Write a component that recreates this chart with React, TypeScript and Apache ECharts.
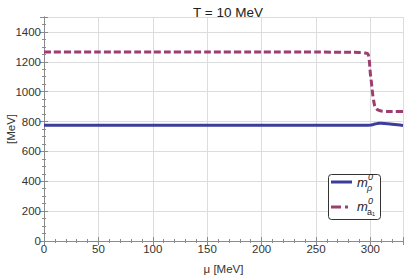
import React, { useEffect, useRef } from "react";
import * as echarts from "echarts";

const title = "T = 10 MeV";
const xName = "μ [MeV]";
const yName = "[MeV]";
const muRho = [0, 50, 100, 150, 200, 250, 290, 298, 300, 302, 304, 306, 308, 310, 313, 316, 320, 325, 330];
const mRho = [775, 775, 775, 775, 775, 775, 775, 775, 776, 779, 783, 786, 788, 788, 787, 785, 782, 778, 774];
const muA1 = [0, 50, 100, 150, 200, 250, 280, 290, 295, 297, 298, 299, 300, 301, 302, 303, 304, 305, 306, 308, 310, 315, 320, 330];
const mA1 = [1265, 1265, 1265, 1265, 1265, 1265, 1264, 1262, 1259, 1256, 1250, 1210, 1120, 1060, 990, 940, 905, 890, 882, 874, 870, 868, 867, 867];
const xTicks = [0, 50, 100, 150, 200, 250, 300];
const yTicks = [0, 200, 400, 600, 800, 1000, 1200, 1400];

const C_RHO = "#3c3c9c";
const C_A1 = "#9e3d70";
const AX = "#8a8a8a";
const FONT = "'Liberation Sans', Arial, sans-serif";

export default function App() {
  const ref = useRef<HTMLDivElement>(null);
  useEffect(() => {
    const chart = echarts.init(ref.current!, null, { renderer: "svg" });
    const frameAxis = (show: boolean) => ({
      axisLine: { show: true, lineStyle: { color: AX, width: 1 } },
      axisTick: { show: true, inside: true, length: 4, lineStyle: { color: AX } },
      minorTick: { show: true, splitNumber: 5, length: 2, lineStyle: { color: AX } },
      axisLabel: { show },
    });
    chart.setOption({
      animation: false,
      backgroundColor: "#ffffff",
      title: {
        text: title,
        left: 223,
        textAlign: "center",
        top: 0,
        textStyle: { fontFamily: FONT, fontSize: 13.5, fontWeight: "normal", color: "#222" },
      },
      grid: { left: 44, right: 4, top: 17, bottom: 35, outerBoundsMode: "none", containLabel: false },
      xAxis: [
        {
          type: "value",
          min: 0,
          max: 330,
          interval: 50,
          name: xName,
          nameLocation: "middle",
          nameGap: 22,
          nameMoveOverlap: false,
          nameTextStyle: { fontFamily: FONT, fontSize: 11.5, color: "#333" },
          ...frameAxis(true),
          axisLabel: {
            show: true,
            fontFamily: FONT,
            fontSize: 11.5,
            color: "#333",
            margin: 2,
            formatter: (v: number) => (xTicks.includes(v) ? String(v) : ""),
          },
          splitLine: { show: true, lineStyle: { color: "#dcdcdc", width: 1 } },
        },
        {
          type: "value",
          position: "top",
          min: 0,
          max: 330,
          interval: 50,
          ...frameAxis(false),
          splitLine: { show: false },
        },
      ],
      yAxis: [
        {
          type: "value",
          min: 0,
          max: 1500,
          interval: 200,
          name: yName,
          nameLocation: "middle",
          nameGap: 27,
          nameMoveOverlap: false,
          nameTextStyle: { fontFamily: FONT, fontSize: 11.5, color: "#333" },
          ...frameAxis(true),
          minorTick: { show: true, splitNumber: 4, length: 2, lineStyle: { color: AX } },
          axisLabel: {
            show: true,
            fontFamily: FONT,
            fontSize: 11.5,
            color: "#333",
            margin: 3,
            formatter: (v: number) => (yTicks.includes(v) ? String(v) : ""),
          },
          splitLine: { show: true, lineStyle: { color: "#dcdcdc", width: 1 } },
        },
        {
          type: "value",
          position: "right",
          min: 0,
          max: 1500,
          interval: 200,
          ...frameAxis(false),
          minorTick: { show: true, splitNumber: 4, length: 2, lineStyle: { color: AX } },
          splitLine: { show: false },
        },
      ],
      series: [
        {
          type: "line",
          name: "rho",
          data: muRho.map((x, i) => [x, mRho[i]]),
          showSymbol: false,
          smooth: 0.3,
          lineStyle: { color: C_RHO, width: 3 },
        },
        {
          type: "line",
          name: "a1",
          data: muA1.map((x, i) => [x, mA1[i]]),
          showSymbol: false,
          smooth: 0.2,
          lineStyle: { color: C_A1, width: 3, type: [7, 3] },
        },
      ],
      graphic: [
        {
          type: "rect",
          shape: { x: 328.5, y: 174.5, width: 52, height: 45, r: 3 },
          style: { fill: "#ffffff", stroke: "#333", lineWidth: 1 },
          z: 100,
        },
        {
          type: "line",
          shape: { x1: 331, y1: 182, x2: 352, y2: 182 },
          style: { stroke: C_RHO, lineWidth: 3 },
          z: 101,
        },
        {
          type: "line",
          shape: { x1: 331, y1: 207, x2: 352, y2: 207 },
          style: { stroke: C_A1, lineWidth: 3, lineDash: [10, 4, 3, 4] },
          z: 101,
        },
        { type: "text", x: 357, y: 176, z: 101, style: { text: "m", fontFamily: FONT, fontStyle: "italic", fontSize: 13, fill: "#222" } },
        { type: "text", x: 368, y: 172, z: 101, style: { text: "0", fontFamily: FONT, fontStyle: "italic", fontSize: 9, fill: "#222" } },
        { type: "text", x: 367, y: 183, z: 101, style: { text: "ρ", fontFamily: FONT, fontStyle: "italic", fontSize: 9, fill: "#222" } },
        { type: "text", x: 357, y: 200, z: 101, style: { text: "m", fontFamily: FONT, fontStyle: "italic", fontSize: 13, fill: "#222" } },
        { type: "text", x: 368, y: 196, z: 101, style: { text: "0", fontFamily: FONT, fontStyle: "italic", fontSize: 9, fill: "#222" } },
        { type: "text", x: 367, y: 207, z: 101, style: { text: "a₁", fontFamily: FONT, fontSize: 9, fill: "#222" } },
      ],
    });
    return () => chart.dispose();
  }, []);
  return <div ref={ref} style={{ width: 407, height: 276, position: "absolute", left: 0, top: 0 }} />;
}
